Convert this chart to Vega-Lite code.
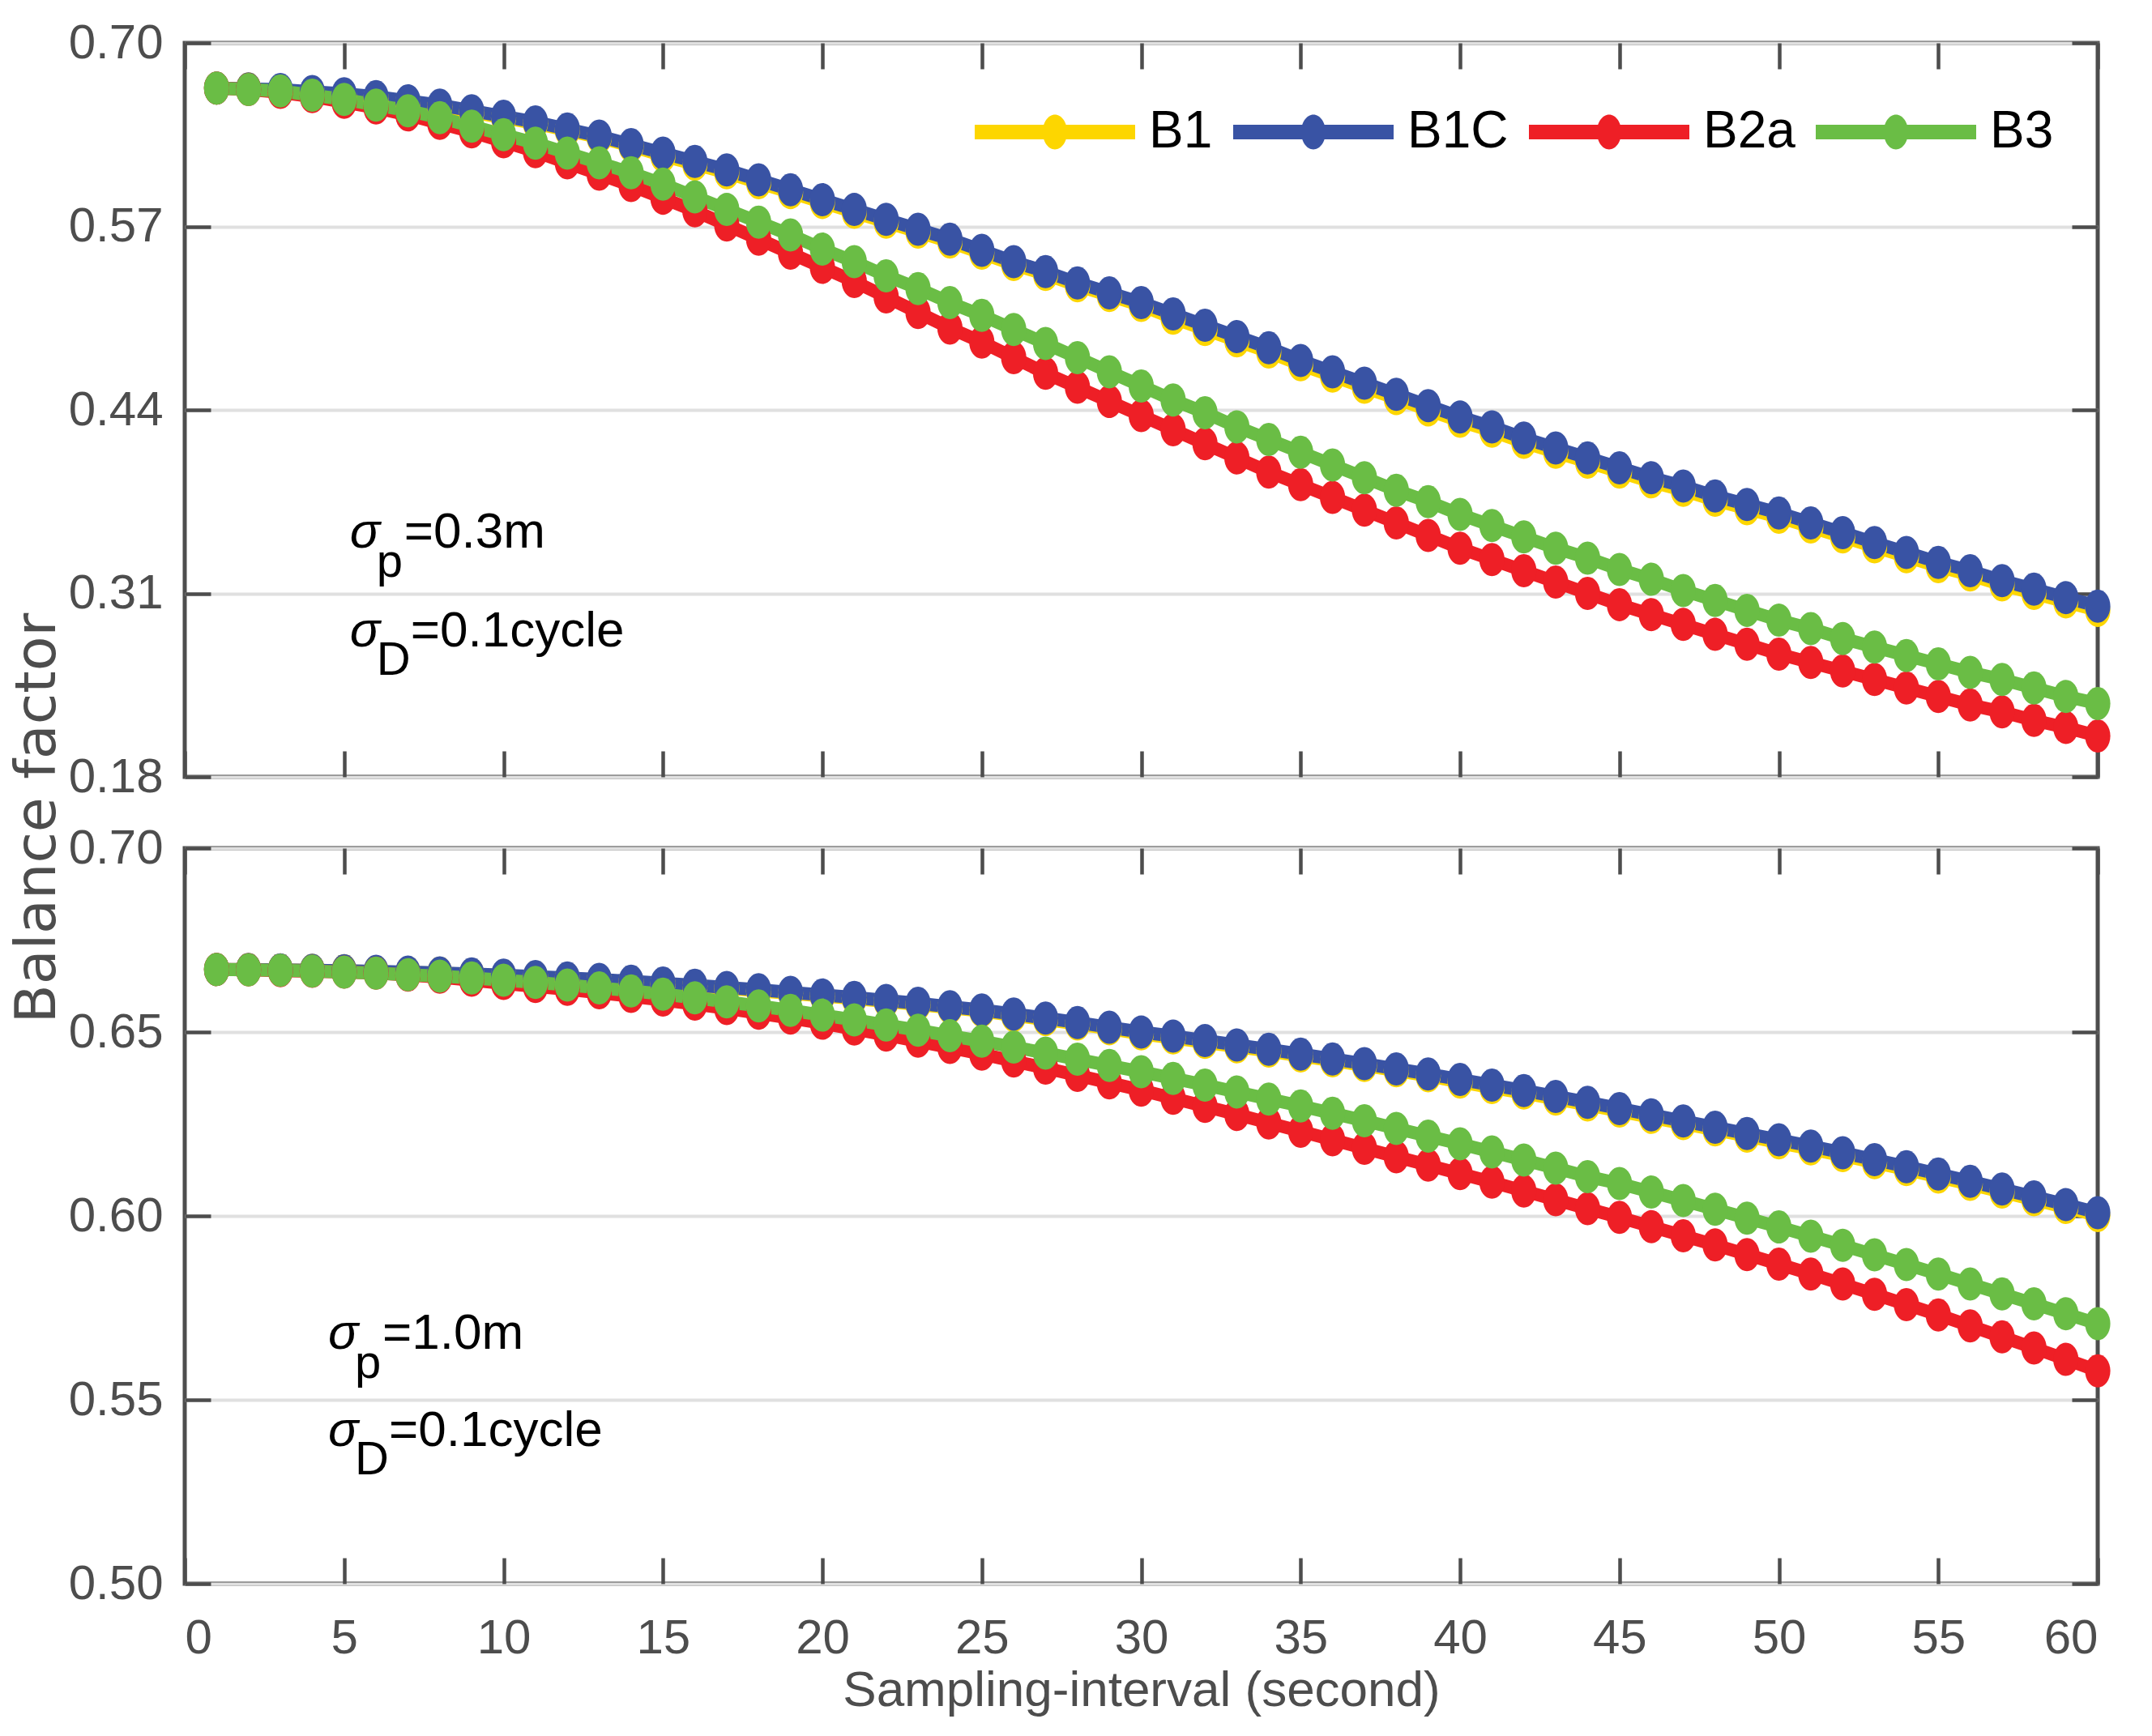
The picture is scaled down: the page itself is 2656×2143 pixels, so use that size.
{
  "$schema": "https://vega.github.io/schema/vega-lite/v6.json",
  "background": "white",
  "padding": {"left": 11, "top": 20, "right": 40, "bottom": 10},
  "bounds": "flush",
  "spacing": 88,
  "title": {
    "text": "Balance factor",
    "orient": "left",
    "anchor": "middle",
    "font": "DejaVu Sans",
    "fontSize": 70,
    "fontWeight": "normal",
    "color": "#4d4d4d",
    "offset": -1,
    "dx": 60
  },
  "config": {
    "view": {"stroke": "#4d4d4d", "strokeWidth": 5},
    "axis": {
      "domain": false,
      "labelFont": "Liberation Sans",
      "labelFontSize": 60,
      "labelColor": "#4d4d4d",
      "tickColor": "#4d4d4d",
      "tickWidth": 4.5,
      "tickSize": -32,
      "gridColor": "#e0e0e0",
      "gridWidth": 4,
      "titleFont": "Liberation Sans",
      "titleFontSize": 62,
      "titleFontWeight": "normal",
      "titleColor": "#4d4d4d"
    }
  },
  "datasets": {
    "top": [
      {"x":1,"B1":0.668,"B1C":0.668,"B2a":0.668,"B3":0.668},
      {"x":2,"B1":0.6675,"B1C":0.6675,"B2a":0.667,"B3":0.667},
      {"x":3,"B1":0.666,"B1C":0.667,"B2a":0.665,"B3":0.666},
      {"x":4,"B1":0.665,"B1C":0.6655,"B2a":0.662,"B3":0.663},
      {"x":5,"B1":0.663,"B1C":0.664,"B2a":0.658,"B3":0.660},
      {"x":6,"B1":0.661,"B1C":0.662,"B2a":0.654,"B3":0.656},
      {"x":7,"B1":0.658,"B1C":0.659,"B2a":0.649,"B3":0.652},
      {"x":8,"B1":0.655,"B1C":0.656,"B2a":0.643,"B3":0.647},
      {"x":9,"B1":0.651,"B1C":0.652,"B2a":0.637,"B3":0.641},
      {"x":10,"B1":0.647,"B1C":0.648,"B2a":0.630,"B3":0.635},
      {"x":11,"B1":0.643,"B1C":0.644,"B2a":0.623,"B3":0.629},
      {"x":12,"B1":0.638,"B1C":0.639,"B2a":0.615,"B3":0.622},
      {"x":13,"B1":0.633,"B1C":0.634,"B2a":0.607,"B3":0.615},
      {"x":14,"B1":0.627,"B1C":0.628,"B2a":0.599,"B3":0.608},
      {"x":15,"B1":0.620,"B1C":0.622,"B2a":0.590,"B3":0.600},
      {"x":16,"B1":0.614,"B1C":0.616,"B2a":0.581,"B3":0.591},
      {"x":17,"B1":0.608,"B1C":0.610,"B2a":0.571,"B3":0.582},
      {"x":18,"B1":0.601,"B1C":0.603,"B2a":0.561,"B3":0.573},
      {"x":19,"B1":0.594,"B1C":0.596,"B2a":0.551,"B3":0.564},
      {"x":20,"B1":0.587,"B1C":0.589,"B2a":0.541,"B3":0.554},
      {"x":21,"B1":0.580,"B1C":0.582,"B2a":0.531,"B3":0.545},
      {"x":22,"B1":0.573,"B1C":0.575,"B2a":0.520,"B3":0.535},
      {"x":23,"B1":0.566,"B1C":0.568,"B2a":0.509,"B3":0.526},
      {"x":24,"B1":0.559,"B1C":0.561,"B2a":0.498,"B3":0.516},
      {"x":25,"B1":0.551,"B1C":0.553,"B2a":0.488,"B3":0.507},
      {"x":26,"B1":0.543,"B1C":0.545,"B2a":0.477,"B3":0.497},
      {"x":27,"B1":0.536,"B1C":0.538,"B2a":0.466,"B3":0.487},
      {"x":28,"B1":0.528,"B1C":0.530,"B2a":0.456,"B3":0.477},
      {"x":29,"B1":0.521,"B1C":0.523,"B2a":0.446,"B3":0.467},
      {"x":30,"B1":0.514,"B1C":0.516,"B2a":0.436,"B3":0.457},
      {"x":31,"B1":0.505,"B1C":0.508,"B2a":0.426,"B3":0.447},
      {"x":32,"B1":0.497,"B1C":0.500,"B2a":0.416,"B3":0.438},
      {"x":33,"B1":0.489,"B1C":0.492,"B2a":0.406,"B3":0.428},
      {"x":34,"B1":0.481,"B1C":0.484,"B2a":0.396,"B3":0.419},
      {"x":35,"B1":0.472,"B1C":0.475,"B2a":0.387,"B3":0.410},
      {"x":36,"B1":0.464,"B1C":0.467,"B2a":0.378,"B3":0.401},
      {"x":37,"B1":0.456,"B1C":0.459,"B2a":0.369,"B3":0.392},
      {"x":38,"B1":0.448,"B1C":0.451,"B2a":0.360,"B3":0.383},
      {"x":39,"B1":0.440,"B1C":0.443,"B2a":0.351,"B3":0.375},
      {"x":40,"B1":0.432,"B1C":0.435,"B2a":0.342,"B3":0.366},
      {"x":41,"B1":0.425,"B1C":0.428,"B2a":0.334,"B3":0.358},
      {"x":42,"B1":0.417,"B1C":0.420,"B2a":0.326,"B3":0.350},
      {"x":43,"B1":0.410,"B1C":0.413,"B2a":0.318,"B3":0.342},
      {"x":44,"B1":0.403,"B1C":0.406,"B2a":0.310,"B3":0.335},
      {"x":45,"B1":0.396,"B1C":0.399,"B2a":0.302,"B3":0.327},
      {"x":46,"B1":0.389,"B1C":0.392,"B2a":0.295,"B3":0.320},
      {"x":47,"B1":0.383,"B1C":0.386,"B2a":0.288,"B3":0.312},
      {"x":48,"B1":0.376,"B1C":0.379,"B2a":0.281,"B3":0.305},
      {"x":49,"B1":0.370,"B1C":0.373,"B2a":0.274,"B3":0.298},
      {"x":50,"B1":0.364,"B1C":0.367,"B2a":0.267,"B3":0.291},
      {"x":51,"B1":0.357,"B1C":0.360,"B2a":0.261,"B3":0.285},
      {"x":52,"B1":0.350,"B1C":0.353,"B2a":0.255,"B3":0.278},
      {"x":53,"B1":0.343,"B1C":0.346,"B2a":0.249,"B3":0.272},
      {"x":54,"B1":0.336,"B1C":0.339,"B2a":0.243,"B3":0.266},
      {"x":55,"B1":0.329,"B1C":0.332,"B2a":0.237,"B3":0.260},
      {"x":56,"B1":0.323,"B1C":0.326,"B2a":0.231,"B3":0.254},
      {"x":57,"B1":0.316,"B1C":0.319,"B2a":0.226,"B3":0.249},
      {"x":58,"B1":0.310,"B1C":0.313,"B2a":0.220,"B3":0.243},
      {"x":59,"B1":0.304,"B1C":0.307,"B2a":0.215,"B3":0.237},
      {"x":60,"B1":0.298,"B1C":0.301,"B2a":0.209,"B3":0.232}
    ],
    "bottom": [
      {"x":1,"B1":0.6670,"B1C":0.6670,"B2a":0.6670,"B3":0.6670},
      {"x":2,"B1":0.6670,"B1C":0.6670,"B2a":0.6669,"B3":0.6669},
      {"x":3,"B1":0.6669,"B1C":0.6669,"B2a":0.6667,"B3":0.6668},
      {"x":4,"B1":0.6668,"B1C":0.6668,"B2a":0.6665,"B3":0.6666},
      {"x":5,"B1":0.6667,"B1C":0.6667,"B2a":0.6663,"B3":0.6663},
      {"x":6,"B1":0.6664,"B1C":0.6665,"B2a":0.6660,"B3":0.6660},
      {"x":7,"B1":0.6662,"B1C":0.6663,"B2a":0.6655,"B3":0.6656},
      {"x":8,"B1":0.6660,"B1C":0.6661,"B2a":0.6649,"B3":0.6652},
      {"x":9,"B1":0.6657,"B1C":0.6658,"B2a":0.6641,"B3":0.6647},
      {"x":10,"B1":0.6653,"B1C":0.6655,"B2a":0.6632,"B3":0.6641},
      {"x":11,"B1":0.6649,"B1C":0.6651,"B2a":0.6624,"B3":0.6635},
      {"x":12,"B1":0.6645,"B1C":0.6647,"B2a":0.6616,"B3":0.6628},
      {"x":13,"B1":0.6641,"B1C":0.6643,"B2a":0.6607,"B3":0.6620},
      {"x":14,"B1":0.6636,"B1C":0.6638,"B2a":0.6597,"B3":0.6612},
      {"x":15,"B1":0.6631,"B1C":0.6633,"B2a":0.6587,"B3":0.6603},
      {"x":16,"B1":0.6625,"B1C":0.6627,"B2a":0.6576,"B3":0.6593},
      {"x":17,"B1":0.6619,"B1C":0.6621,"B2a":0.6564,"B3":0.6582},
      {"x":18,"B1":0.6612,"B1C":0.6615,"B2a":0.6551,"B3":0.6571},
      {"x":19,"B1":0.6605,"B1C":0.6608,"B2a":0.6538,"B3":0.6559},
      {"x":20,"B1":0.6598,"B1C":0.6601,"B2a":0.6524,"B3":0.6546},
      {"x":21,"B1":0.6591,"B1C":0.6594,"B2a":0.6508,"B3":0.6533},
      {"x":22,"B1":0.6583,"B1C":0.6586,"B2a":0.6492,"B3":0.6519},
      {"x":23,"B1":0.6575,"B1C":0.6578,"B2a":0.6475,"B3":0.6505},
      {"x":24,"B1":0.6566,"B1C":0.6569,"B2a":0.6458,"B3":0.6490},
      {"x":25,"B1":0.6557,"B1C":0.6560,"B2a":0.6440,"B3":0.6475},
      {"x":26,"B1":0.6545,"B1C":0.6549,"B2a":0.6421,"B3":0.6459},
      {"x":27,"B1":0.6534,"B1C":0.6538,"B2a":0.6402,"B3":0.6443},
      {"x":28,"B1":0.6522,"B1C":0.6526,"B2a":0.6382,"B3":0.6426},
      {"x":29,"B1":0.6509,"B1C":0.6513,"B2a":0.6362,"B3":0.6409},
      {"x":30,"B1":0.6495,"B1C":0.6500,"B2a":0.6342,"B3":0.6392},
      {"x":31,"B1":0.6484,"B1C":0.6489,"B2a":0.6320,"B3":0.6374},
      {"x":32,"B1":0.6472,"B1C":0.6477,"B2a":0.6298,"B3":0.6356},
      {"x":33,"B1":0.6460,"B1C":0.6465,"B2a":0.6276,"B3":0.6337},
      {"x":34,"B1":0.6448,"B1C":0.6453,"B2a":0.6253,"B3":0.6318},
      {"x":35,"B1":0.6435,"B1C":0.6440,"B2a":0.6230,"B3":0.6299},
      {"x":36,"B1":0.6422,"B1C":0.6427,"B2a":0.6207,"B3":0.6279},
      {"x":37,"B1":0.6409,"B1C":0.6414,"B2a":0.6184,"B3":0.6259},
      {"x":38,"B1":0.6395,"B1C":0.6400,"B2a":0.6161,"B3":0.6238},
      {"x":39,"B1":0.6381,"B1C":0.6386,"B2a":0.6138,"B3":0.6217},
      {"x":40,"B1":0.6364,"B1C":0.6371,"B2a":0.6115,"B3":0.6196},
      {"x":41,"B1":0.6349,"B1C":0.6356,"B2a":0.6092,"B3":0.6174},
      {"x":42,"B1":0.6334,"B1C":0.6341,"B2a":0.6068,"B3":0.6152},
      {"x":43,"B1":0.6318,"B1C":0.6325,"B2a":0.6044,"B3":0.6130},
      {"x":44,"B1":0.6302,"B1C":0.6309,"B2a":0.6020,"B3":0.6107},
      {"x":45,"B1":0.6285,"B1C":0.6292,"B2a":0.5996,"B3":0.6088},
      {"x":46,"B1":0.6268,"B1C":0.6275,"B2a":0.5971,"B3":0.6065},
      {"x":47,"B1":0.6251,"B1C":0.6258,"B2a":0.5946,"B3":0.6042},
      {"x":48,"B1":0.6234,"B1C":0.6241,"B2a":0.5921,"B3":0.6018},
      {"x":49,"B1":0.6217,"B1C":0.6224,"B2a":0.5895,"B3":0.5994},
      {"x":50,"B1":0.6199,"B1C":0.6207,"B2a":0.5869,"B3":0.5970},
      {"x":51,"B1":0.6182,"B1C":0.6190,"B2a":0.5842,"B3":0.5945},
      {"x":52,"B1":0.6164,"B1C":0.6172,"B2a":0.5815,"B3":0.5920},
      {"x":53,"B1":0.6145,"B1C":0.6153,"B2a":0.5787,"B3":0.5894},
      {"x":54,"B1":0.6126,"B1C":0.6134,"B2a":0.5759,"B3":0.5868},
      {"x":55,"B1":0.6106,"B1C":0.6114,"B2a":0.5731,"B3":0.5842},
      {"x":56,"B1":0.6086,"B1C":0.6094,"B2a":0.5701,"B3":0.5815},
      {"x":57,"B1":0.6065,"B1C":0.6073,"B2a":0.5671,"B3":0.5788},
      {"x":58,"B1":0.6044,"B1C":0.6052,"B2a":0.5641,"B3":0.5761},
      {"x":59,"B1":0.6023,"B1C":0.6031,"B2a":0.5610,"B3":0.5734},
      {"x":60,"B1":0.6001,"B1C":0.6009,"B2a":0.5579,"B3":0.5707}
    ]
  },
  "resolve": {"legend": {"color": "independent"}},
  "vconcat": [
    {
      "width": 2361,
      "height": 906,
      "layer": [
        {
          "data": {"name": "top"},
          "transform": [{"fold": ["B1", "B1C", "B2a", "B3"], "as": ["series", "value"]}],
          "mark": {
            "type": "line",
            "strokeWidth": 16,
            "point": {
              "filled": true,
              "opacity": 1,
              "size": 1681,
              "shape": "M 0 -1 C 0.42 -1 0.76 -0.552 0.76 0 C 0.76 0.552 0.42 1 0 1 C -0.42 1 -0.76 0.552 -0.76 0 C -0.76 -0.552 -0.42 -1 0 -1 Z"
            }
          },
          "encoding": {
            "x": {
              "field": "x",
              "type": "quantitative",
              "scale": {"domain": [0, 60], "nice": false},
              "axis": {"values": [0, 5, 10, 15, 20, 25, 30, 35, 40, 45, 50, 55, 60], "labels": false, "title": null, "grid": false, "minExtent": 0, "maxExtent": 0}
            },
            "y": {
              "field": "value",
              "type": "quantitative",
              "scale": {"domain": [0.18, 0.7], "nice": false, "zero": false},
              "axis": {"values": [0.18, 0.31, 0.44, 0.57, 0.7], "format": ".2f", "title": null, "grid": true, "labelPadding": 59, "minExtent": 134, "maxExtent": 134}
            },
            "color": {
              "field": "series",
              "type": "nominal",
              "scale": {"domain": ["B1", "B1C", "B2a", "B3"], "range": ["#fdd600", "#3953a4", "#ee1f26", "#6abd45"]},
              "legend": {
                "orient": "none",
                "legendX": 975,
                "legendY": 11,
                "direction": "horizontal",
                "title": null,
                "padding": 0,
                "symbolType": "M -1 -0.091 L 1 -0.091 L 1 0.091 L -1 0.091 Z M 0 -0.217 C 0.084 -0.217 0.152 -0.12 0.152 0 C 0.152 0.12 0.084 0.217 0 0.217 C -0.084 0.217 -0.152 0.12 -0.152 0 C -0.152 -0.12 -0.084 -0.217 0 -0.217 Z",
                "symbolSize": 39204,
                "symbolStrokeWidth": 0,
                "labelFont": "Liberation Sans",
                "labelFontSize": 64,
                "labelColor": "black",
                "labelOffset": 17,
                "columnPadding": 25,
                "encode": {
                  "symbols": {
                    "update": {
                      "fill": {"scale": "color", "field": "value"},
                      "stroke": {"value": "transparent"},
                      "strokeWidth": {"value": 0},
                      "opacity": {"value": 1}
                    }
                  }
                }
              }
            }
          }
        },
        {
          "data": {"name": "top"},
          "mark": {"type": "point", "opacity": 0},
          "encoding": {
            "x": {
              "field": "x",
              "type": "quantitative",
              "axis": {"orient": "top", "values": [0, 5, 10, 15, 20, 25, 30, 35, 40, 45, 50, 55, 60], "labels": false, "title": null, "grid": false, "minExtent": 0, "maxExtent": 0}
            },
            "y": {
              "field": "B1C",
              "type": "quantitative",
              "axis": {"orient": "right", "values": [0.18, 0.31, 0.44, 0.57, 0.7], "labels": false, "title": null, "grid": false, "minExtent": 0, "maxExtent": 0}
            }
          }
        },
        {
          "data": {"values": [{}]},
          "mark": {"type": "text", "text": "σ", "font": "Liberation Sans", "fontStyle": "italic", "fontSize": 62, "align": "left", "baseline": "alphabetic", "color": "black"},
          "encoding": {"x": {"datum": 5.18, "type": "quantitative", "axis": null}, "y": {"datum": 0.3424, "type": "quantitative", "axis": null}}
        },
        {
          "data": {"values": [{}]},
          "mark": {"type": "text", "text": "p", "font": "Liberation Sans", "fontSize": 58, "align": "left", "baseline": "alphabetic", "dx": 33, "dy": 36, "color": "black"},
          "encoding": {"x": {"datum": 5.18, "type": "quantitative", "axis": null}, "y": {"datum": 0.3424, "type": "quantitative", "axis": null}}
        },
        {
          "data": {"values": [{}]},
          "mark": {"type": "text", "text": "=0.3m", "font": "Liberation Sans", "fontSize": 62, "align": "left", "baseline": "alphabetic", "dx": 67, "color": "black"},
          "encoding": {"x": {"datum": 5.18, "type": "quantitative", "axis": null}, "y": {"datum": 0.3424, "type": "quantitative", "axis": null}}
        },
        {
          "data": {"values": [{}]},
          "mark": {"type": "text", "text": "σ", "font": "Liberation Sans", "fontStyle": "italic", "fontSize": 62, "align": "left", "baseline": "alphabetic", "color": "black"},
          "encoding": {"x": {"datum": 5.18, "type": "quantitative", "axis": null}, "y": {"datum": 0.2724, "type": "quantitative", "axis": null}}
        },
        {
          "data": {"values": [{}]},
          "mark": {"type": "text", "text": "D", "font": "Liberation Sans", "fontSize": 58, "align": "left", "baseline": "alphabetic", "dx": 33, "dy": 35, "color": "black"},
          "encoding": {"x": {"datum": 5.18, "type": "quantitative", "axis": null}, "y": {"datum": 0.2724, "type": "quantitative", "axis": null}}
        },
        {
          "data": {"values": [{}]},
          "mark": {"type": "text", "text": "=0.1cycle", "font": "Liberation Sans", "fontSize": 62, "align": "left", "baseline": "alphabetic", "dx": 75, "color": "black"},
          "encoding": {"x": {"datum": 5.18, "type": "quantitative", "axis": null}, "y": {"datum": 0.2724, "type": "quantitative", "axis": null}}
        }
      ],
      "resolve": {"axis": {"x": "independent", "y": "independent"}}
    },
    {
      "width": 2361,
      "height": 908,
      "layer": [
        {
          "data": {"name": "bottom"},
          "transform": [{"fold": ["B1", "B1C", "B2a", "B3"], "as": ["series", "value"]}],
          "mark": {
            "type": "line",
            "strokeWidth": 16,
            "point": {
              "filled": true,
              "opacity": 1,
              "size": 1681,
              "shape": "M 0 -1 C 0.42 -1 0.76 -0.552 0.76 0 C 0.76 0.552 0.42 1 0 1 C -0.42 1 -0.76 0.552 -0.76 0 C -0.76 -0.552 -0.42 -1 0 -1 Z"
            }
          },
          "encoding": {
            "x": {
              "field": "x",
              "type": "quantitative",
              "scale": {"domain": [0, 60], "nice": false},
              "axis": {"values": [0, 5, 10, 15, 20, 25, 30, 35, 40, 45, 50, 55, 60], "title": "Sampling-interval (second)", "grid": false, "labelPadding": 70, "titlePadding": 4}
            },
            "y": {
              "field": "value",
              "type": "quantitative",
              "scale": {"domain": [0.5, 0.7], "nice": false, "zero": false},
              "axis": {"values": [0.5, 0.55, 0.6, 0.65, 0.7], "format": ".2f", "title": null, "grid": true, "labelPadding": 59, "minExtent": 134, "maxExtent": 134}
            },
            "color": {"field": "series", "type": "nominal", "legend": null}
          }
        },
        {
          "data": {"name": "bottom"},
          "mark": {"type": "point", "opacity": 0},
          "encoding": {
            "x": {
              "field": "x",
              "type": "quantitative",
              "axis": {"orient": "top", "values": [0, 5, 10, 15, 20, 25, 30, 35, 40, 45, 50, 55, 60], "labels": false, "title": null, "grid": false, "minExtent": 0, "maxExtent": 0}
            },
            "y": {
              "field": "B1C",
              "type": "quantitative",
              "axis": {"orient": "right", "values": [0.5, 0.55, 0.6, 0.65, 0.7], "labels": false, "title": null, "grid": false, "minExtent": 0, "maxExtent": 0}
            }
          }
        },
        {
          "data": {"values": [{}]},
          "mark": {"type": "text", "text": "σ", "font": "Liberation Sans", "fontStyle": "italic", "fontSize": 62, "align": "left", "baseline": "alphabetic", "color": "black"},
          "encoding": {"x": {"datum": 4.5, "type": "quantitative", "axis": null}, "y": {"datum": 0.5639, "type": "quantitative", "axis": null}}
        },
        {
          "data": {"values": [{}]},
          "mark": {"type": "text", "text": "p", "font": "Liberation Sans", "fontSize": 58, "align": "left", "baseline": "alphabetic", "dx": 33, "dy": 36, "color": "black"},
          "encoding": {"x": {"datum": 4.5, "type": "quantitative", "axis": null}, "y": {"datum": 0.5639, "type": "quantitative", "axis": null}}
        },
        {
          "data": {"values": [{}]},
          "mark": {"type": "text", "text": "=1.0m", "font": "Liberation Sans", "fontSize": 62, "align": "left", "baseline": "alphabetic", "dx": 67, "color": "black"},
          "encoding": {"x": {"datum": 4.5, "type": "quantitative", "axis": null}, "y": {"datum": 0.5639, "type": "quantitative", "axis": null}}
        },
        {
          "data": {"values": [{}]},
          "mark": {"type": "text", "text": "σ", "font": "Liberation Sans", "fontStyle": "italic", "fontSize": 62, "align": "left", "baseline": "alphabetic", "color": "black"},
          "encoding": {"x": {"datum": 4.5, "type": "quantitative", "axis": null}, "y": {"datum": 0.5374, "type": "quantitative", "axis": null}}
        },
        {
          "data": {"values": [{}]},
          "mark": {"type": "text", "text": "D", "font": "Liberation Sans", "fontSize": 58, "align": "left", "baseline": "alphabetic", "dx": 33, "dy": 35, "color": "black"},
          "encoding": {"x": {"datum": 4.5, "type": "quantitative", "axis": null}, "y": {"datum": 0.5374, "type": "quantitative", "axis": null}}
        },
        {
          "data": {"values": [{}]},
          "mark": {"type": "text", "text": "=0.1cycle", "font": "Liberation Sans", "fontSize": 62, "align": "left", "baseline": "alphabetic", "dx": 75, "color": "black"},
          "encoding": {"x": {"datum": 4.5, "type": "quantitative", "axis": null}, "y": {"datum": 0.5374, "type": "quantitative", "axis": null}}
        }
      ],
      "resolve": {"axis": {"x": "independent", "y": "independent"}}
    }
  ]
}
